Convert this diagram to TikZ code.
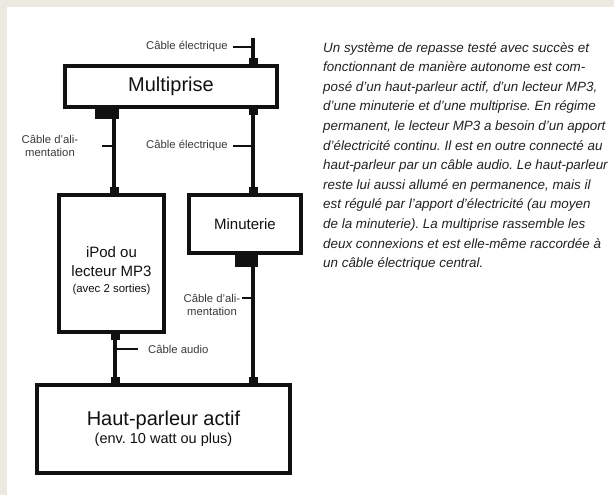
\documentclass[tikz,border=0pt]{standalone}
\usepackage{fontspec}
\setmainfont{Liberation Sans}
\frenchspacing
\definecolor{ink}{HTML}{111111}
\definecolor{muted}{HTML}{3A3A3A}
\definecolor{notetext}{HTML}{222222}
\definecolor{frame}{HTML}{ECE9E0}
\newcommand{\bigfont}{\fontsize{20}{22}\selectfont}
\newcommand{\midfont}{\fontsize{15}{19}\selectfont}
\newcommand{\smallfont}{\fontsize{11.4}{14}\selectfont}
\newcommand{\cablefont}{\fontsize{11.3}{13}\selectfont}
\newcommand{\notefont}{\fontsize{13.4}{19.6}\selectfont}
\tikzset{
  unit/.style={draw=ink, line width=3.6pt, fill=white, rectangle, inner sep=0pt, align=center, text=ink},
  cable/.style={draw=ink, line width=3.2pt},
  tick/.style={draw=ink, line width=1.1pt},
  jack/.style={fill=ink, rectangle, minimum width=9pt, minimum height=6pt, inner sep=0pt},
  plug/.style={fill=ink, rectangle, inner sep=0pt},
  cablelbl/.style={text=muted, font=\cablefont, inner sep=0pt, align=center},
}

\begin{document}
\begin{tikzpicture}[x=1pt,y=-1pt]
  \fill[frame] (0,0) rectangle (614,495);
  \fill[white] (7,7) rectangle (614,495);

  % the four units
  \node[unit, minimum width=212pt, minimum height=41pt, font=\bigfont] (multi) at (171,86.5) {Multiprise};
  \node[unit, minimum width=105pt, minimum height=137pt, font=\midfont] (ipod) at (111.5,263.5)
    {\rule{0pt}{26pt}iPod ou\\lecteur MP3\\[-3pt]{\smallfont (avec 2 sorties)}};
  \node[unit, minimum width=112pt, minimum height=58pt, font=\midfont] (minut) at (245,224) {Minuterie};
  \node[unit, minimum width=253pt, minimum height=88pt, font=\bigfont] (speaker) at (163.5,429)
    {Haut-parleur actif\\[-4pt]{\fontsize{14.5}{17}\selectfont (env. 10 watt ou plus)}};

  % plugs under the strip and the timer
  \node[plug, minimum width=24pt, minimum height=13pt, anchor=north] (plugA) at (107,106) {};
  \node[plug, minimum width=23pt, minimum height=15pt, anchor=north] (plugB) at (246.5,252) {};

  % cables
  \coordinate (mains) at (253,38);
  \draw[cable] (mains) -- (multi.north -| mains);
  \draw[cable] ([xshift=7pt]plugA.south) -- ([xshift=7pt]plugA.south |- ipod.north);
  \draw[cable] (multi.south -| mains) -- (minut.north -| mains);
  \draw[cable] ([xshift=6.5pt]plugB.south) -- ([xshift=6.5pt]plugB.south |- speaker.north);
  \draw[cable] (ipod.south -| 115,0) -- (speaker.north -| 115,0);

  % jacks
  \node[jack, anchor=south] (jackA) at (multi.north -| mains) {};
  \node[jack, anchor=north] (jackB) at (multi.south -| mains) {};
  \node[jack, anchor=south] (jackC) at ([xshift=7pt]plugA.south |- ipod.north) {};
  \node[jack, anchor=south] (jackD) at (minut.north -| mains) {};
  \node[jack, anchor=north] (jackE) at (ipod.south -| 115,0) {};
  \node[jack, anchor=south] (jackF) at (speaker.north -| 115,0) {};
  \node[jack, anchor=south] (jackG) at (speaker.north -| mains) {};

  % cable labels
  \node[cablelbl, anchor=east] (lblA) at (228,47) {Câble électrique};
  \draw[tick] ([xshift=5pt]lblA.east) -- (lblA.east -| mains);
  \node[cablelbl] (lblB) at (50,146) {Câble d'ali-\\mentation};
  \draw[tick] (102,146) -- (jackC |- lblB);
  \node[cablelbl, anchor=east] (lblC) at (228,146) {Câble électrique};
  \draw[tick] ([xshift=5pt]lblC.east) -- (lblC.east -| mains);
  \node[cablelbl] (lblD) at (212,305) {Câble d'ali-\\mentation};
  \draw[tick] (242,298) -- (253,298);
  \node[cablelbl, anchor=west] (lblE) at (148,349) {Câble audio};
  \draw[tick] ([xshift=-10pt]lblE.west) -- (lblE.west -| jackE);

  % note
  \node[anchor=north west, align=left, inner sep=0pt, font=\notefont\itshape, text=notetext] (note) at (323,42)
    {Un système de repasse testé avec succès et\\
     fonctionnant de manière autonome est com-\\
     posé d'un haut-parleur actif, d'un lecteur MP3,\\
     d'une minuterie et d'une multiprise. En régime\\
     permanent, le lecteur MP3 a besoin d'un apport\\
     d'électricité continu. Il est en outre connecté au\\
     haut-parleur par un câble audio. Le haut-parleur\\
     reste lui aussi allumé en permanence, mais il\\
     est régulé par l'apport d'électricité (au moyen\\
     de la minuterie). La multiprise rassemble les\\
     deux connexions et est elle-même raccordée à\\
     un câble électrique central.};
\end{tikzpicture}
\end{document}
